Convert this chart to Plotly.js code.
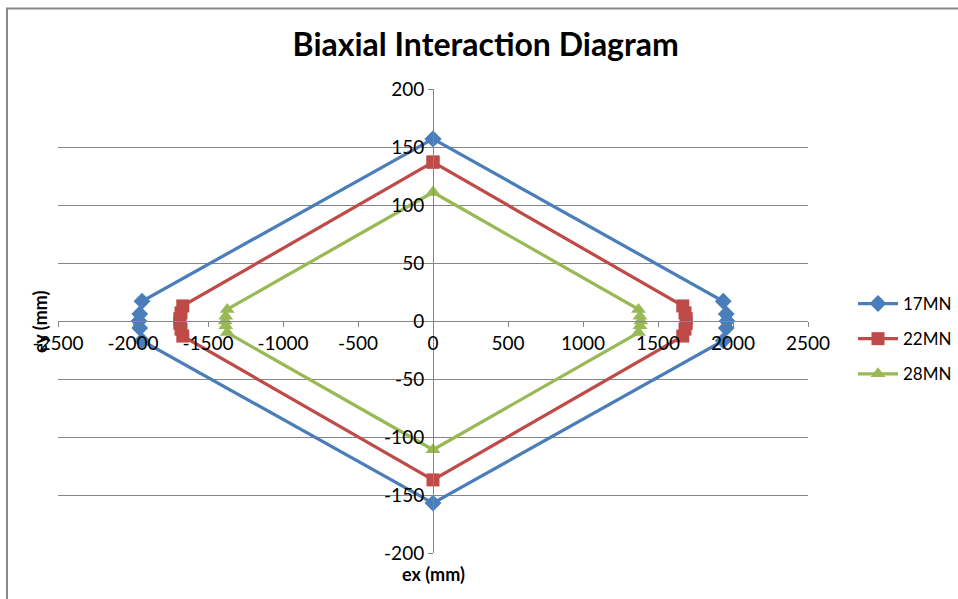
<!DOCTYPE html>
<html>
<head>
<meta charset="utf-8">
<script src="https://cdn.plot.ly/plotly-3.0.1.min.js"></script>
<style>html,body{margin:0;padding:0;background:#fff;}#chart{width:958px;height:599px;}</style>
</head>
<body>
<div id="chart"></div>
<script>
// Data (ex, ey in mm)
const seriesNames = ["17MN", "22MN", "28MN"];
const ex17 = [0, 1935, 1955, 1960, 1955, 1935, 0, -1940, -1955, -1960, -1955, -1940, 0];
const ey17 = [157, 17, 6, 0, -6, -17, -157, -17, -6, 0, 6, 17, 157];
const ex22 = [0, 1665, 1680, 1688, 1688, 1680, 1665, 0, -1668, -1680, -1688, -1688, -1680, -1668, 0];
const ey22 = [137, 13, 7, 2, -2, -7, -13, -137, -13, -7, -2, 2, 7, 13, 137];
const ex28 = [0, 1370, 1380, 1385, 1380, 1370, 0, -1372, -1382, -1386, -1382, -1372, 0];
const ey28 = [111, 10, 4, 0, -4, -10, -111, -10, -4, 0, 4, 10, 111];
const xTicks = [-2500, -2000, -1500, -1000, -500, 0, 500, 1000, 1500, 2000, 2500];
const yTicks = [-200, -150, -100, -50, 0, 50, 100, 150, 200];

const colors = ["#4A7EBB", "#BE4B48", "#98B954"];
const symbols = ["diamond", "square", "triangle-up"];
const sizes = [13, 13, 13];
const xs = [ex17, ex22, ex28];
const ys = [ey17, ey22, ey28];

const font = "Lato, 'Liberation Sans', sans-serif";

const traces = seriesNames.map((n, i) => ({
  type: "scatter",
  mode: "lines+markers",
  name: n,
  x: xs[i],
  y: ys[i],
  legendgroup: n,
  line: {color: colors[i], width: 3.25},
  marker: {symbol: symbols[i], size: sizes[i], color: colors[i]},
  cliponaxis: false
}));

const layout = {
  width: 958,
  height: 599,
  margin: {l: 58, r: 150, t: 89, b: 46, autoexpand: false},
  paper_bgcolor: "#ffffff",
  plot_bgcolor: "#ffffff",
  font: {family: font, size: 19, color: "#000"},
  title: {
    text: "<b>Biaxial Interaction Diagram</b>",
    font: {family: font, size: 32, color: "#000"},
    xref: "container", x: 0.507, xanchor: "center",
    yref: "container", y: 1 - 45/599, yanchor: "middle"
  },
  showlegend: true,
  legend: {
    x: (853 - 58) / 750, xanchor: "left",
    y: (553 - 286) / 464, yanchor: "top",
    font: {family: font, size: 17, color: "#000"},
    itemwidth: 40,
    tracegroupgap: 10,
    bgcolor: "rgba(0,0,0,0)"
  },
  xaxis: {
    range: [-2500, 2500],
    tickvals: xTicks,
    ticktext: xTicks.map(String),
    showgrid: false,
    zeroline: false,
    showline: true,
    linecolor: "#868686",
    linewidth: 1,
    ticks: "outside",
    ticklen: 5,
    tickcolor: "#868686",
    anchor: "free",
    position: 0.5,
    automargin: false,
    tickfont: {family: font, size: 19, color: "#000"},
    fixedrange: true
  },
  yaxis: {
    range: [-200, 200],
    tickvals: yTicks,
    ticktext: yTicks.map(String),
    showgrid: true,
    gridcolor: "#868686",
    gridwidth: 1,
    zeroline: false,
    showline: true,
    linecolor: "#868686",
    linewidth: 1,
    ticks: "outside",
    ticklen: 5,
    tickcolor: "#868686",
    anchor: "free",
    position: 0.5,
    automargin: false,
    tickfont: {family: font, size: 19, color: "#000"},
    fixedrange: true
  },
  annotations: [
    {text: "<b>ex (mm)</b>", xref: "paper", yref: "paper", x: 0.5, y: -(574 - 553) / 464,
     xanchor: "center", yanchor: "middle", showarrow: false, font: {family: font, size: 18, color: "#000"}},
    {text: "<b>ey (mm)</b>", xref: "paper", yref: "paper", x: (40 - 58) / 750, y: (553 - 322) / 464,
     xanchor: "center", yanchor: "middle", textangle: -90, showarrow: false, font: {family: font, size: 18, color: "#000"}}
  ],
  shapes: [
    {type: "rect", xref: "paper", yref: "paper",
     x0: (7 - 58) / 750, x1: (970 - 58) / 750,
     y0: (553 - 620) / 464, y1: (553 - 8.5) / 464,
     line: {color: "#888888", width: 2}, fillcolor: "rgba(0,0,0,0)", layer: "below"}
  ]
};

Plotly.newPlot("chart", traces, layout, {displayModeBar: false, staticPlot: true});
</script>
</body>
</html>
